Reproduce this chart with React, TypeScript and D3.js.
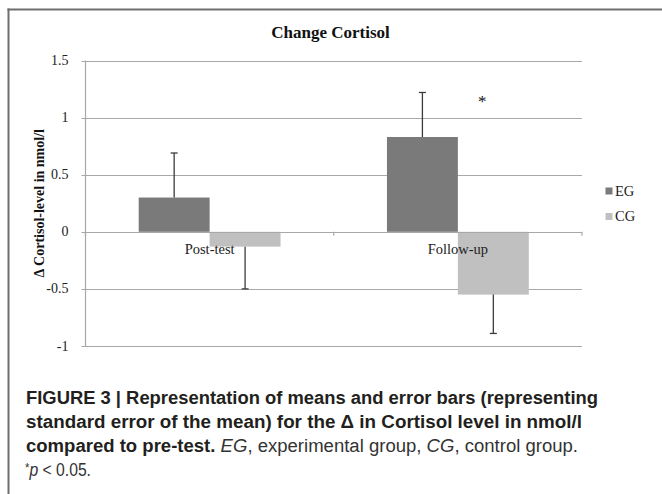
import React from "react";
import * as d3 from "d3";

const categories = ["Post-test", "Follow-up"];
const seriesNames = ["EG", "CG"];
const egMeans = [0.3, 0.83];
const cgMeans = [-0.13, -0.55];
const egErrors = [0.39, 0.39];
const cgErrors = [0.37, 0.34];
const yTicks = [-1, -0.5, 0, 0.5, 1, 1.5];
const seriesColors = ["#7a7a7a", "#c0c0c0"];
const significance = [{ category: "Follow-up", series: "CG", label: "*", value: 1.17 }];

const W = 662;
const H = 494;
const serif = "'Liberation Serif', 'Times New Roman', serif";
const sans = "'Liberation Sans', Arial, Helvetica, sans-serif";

export default function App() {
  const left = 85.5;
  const right = 582;
  const y = d3.scaleLinear().domain([-1, 1.5]).range([346, 60.5]);
  const x0 = d3.scaleBand<string>().domain(categories).range([left, right]).padding(0);
  const barW = x0.bandwidth() / 3.5;
  const groupOffset = (x0.bandwidth() - 2 * barW) / 2;
  const x1 = d3.scaleBand<string>().domain(seriesNames).range([0, 2 * barW]).padding(0);
  const means = [egMeans, cgMeans];
  const errs = [egErrors, cgErrors];
  const y0 = y(0);

  const bars: any[] = [];
  seriesNames.forEach((s, si) => {
    categories.forEach((c, ci) => {
      const v = means[si][ci];
      const e = errs[si][ci];
      const bx = (x0(c) as number) + groupOffset + (x1(s) as number);
      const top = Math.min(y(v), y0);
      const h = Math.abs(y(v) - y0);
      const end = v >= 0 ? v + e : v - e;
      bars.push({ key: s + c, bx, top, h, color: seriesColors[si], cx: bx + barW / 2, yv: y(v), ye: y(end) });
    });
  });

  const tickXs = [left, (x0(categories[1]) as number), right];

  return (
    <svg width={W} height={H} style={{ position: "absolute", left: 0, top: 0, display: "block", background: "#fff" }}>
      <rect x={0} y={0} width={W} height={H} fill="#fff" />
      {/* frame */}
      <line x1={7.5} x2={W} y1={9.5} y2={9.5} stroke="#6e6e6e" strokeWidth={2} />
      <line x1={8.5} x2={8.5} y1={8.5} y2={H} stroke="#6e6e6e" strokeWidth={2} />

      {/* title */}
      <text x={330.5} y={37.5} textAnchor="middle" fontFamily={serif} fontWeight="bold" fontSize={17} fill="#111">
        Change Cortisol
      </text>

      {/* gridlines */}
      {yTicks.map((t) => (
        <line key={"g" + t} x1={left - 4} x2={right} y1={Math.round(y(t)) + 0.5} y2={Math.round(y(t)) + 0.5} stroke="#a8a8a8" strokeWidth={1.2} />
      ))}
      {/* tick labels */}
      {yTicks.map((t) => (
        <text key={"t" + t} x={68.5} y={y(t) + 4.5} textAnchor="end" fontFamily={serif} fontSize={14} fill="#222">
          {String(t)}
        </text>
      ))}
      {/* y axis */}
      <line x1={left} x2={left} y1={y(1.5)} y2={y(-1)} stroke="#a8a8a8" strokeWidth={1.2} />

      {/* bars */}
      {bars.map((b) => (
        <rect key={b.key} x={b.bx} y={b.top} width={barW} height={b.h} fill={b.color} />
      ))}

      {/* zero axis */}
      <line x1={left} x2={right} y1={Math.round(y0) + 0.5} y2={Math.round(y0) + 0.5} stroke="#a8a8a8" strokeWidth={1.2} />
      {tickXs.map((tx, i) => (
        <line key={"xt" + i} x1={tx} x2={tx} y1={y0} y2={y0 + 4} stroke="#a8a8a8" strokeWidth={1.2} />
      ))}

      {/* error bars */}
      {bars.map((b) => (
        <g key={"e" + b.key} stroke="#3c3c3c" strokeWidth={1.3}>
          <line x1={b.cx} x2={b.cx} y1={b.yv} y2={b.ye} />
          <line x1={b.cx - 3.5} x2={b.cx + 3.5} y1={b.ye} y2={b.ye} />
        </g>
      ))}

      {/* category labels */}
      {categories.map((c) => (
        <text key={"c" + c} x={(x0(c) as number) + x0.bandwidth() / 2} y={253.5} textAnchor="middle" fontFamily={serif} fontSize={14.5} fill="#222">
          {c}
        </text>
      ))}

      {/* significance */}
      {significance.map((s) => (
        <text key={"s" + s.category} x={(x0(s.category) as number) + groupOffset + (x1(s.series) as number) + barW / 2 - 11} y={y(s.value) + 9} textAnchor="middle" fontFamily={serif} fontSize={17} fill="#111">
          {s.label}
        </text>
      ))}

      {/* y title */}
      <text transform={`translate(44,${y(0.25)}) rotate(-90)`} textAnchor="middle" fontFamily={serif} fontWeight="bold" fontSize={14} fill="#111">
        Δ Cortisol-level in nmol/l
      </text>

      {/* legend */}
      {seriesNames.map((s, i) => (
        <g key={"l" + s}>
          <rect x={605.5} y={187.5 + i * 25.5} width={7} height={7} fill={seriesColors[i]} />
          <text x={615} y={196 + i * 25} fontFamily={serif} fontSize={14.5} fill="#222">
            {s}
          </text>
        </g>
      ))}

      {/* caption */}
      <g fontFamily={sans} fontSize={18} fill="#231f20">
        <text x={26} y={404} fontWeight="bold" textLength={572} lengthAdjust="spacingAndGlyphs">
          FIGURE 3 | Representation of means and error bars (representing
        </text>
        <text x={26} y={428} fontWeight="bold" textLength={556} lengthAdjust="spacingAndGlyphs">
          standard error of the mean) for the Δ in Cortisol level in nmol/l
        </text>
        <text x={26} y={452} textLength={552} lengthAdjust="spacingAndGlyphs">
          <tspan fontWeight="bold">compared to pre-test.</tspan>
          <tspan fill="#333"> </tspan>
          <tspan fontStyle="italic" fill="#333">EG</tspan>
          <tspan fill="#333">, experimental group, </tspan>
          <tspan fontStyle="italic" fill="#333">CG</tspan>
          <tspan fill="#333">, control group.</tspan>
        </text>
        <text x={25} y={476} fill="#333" textLength={66} lengthAdjust="spacingAndGlyphs">
          <tspan fontSize={13} dy={-4}>*</tspan>
          <tspan fontStyle="italic" dy={4}>p</tspan>
          <tspan> &lt; 0.05.</tspan>
        </text>
      </g>
    </svg>
  );
}
